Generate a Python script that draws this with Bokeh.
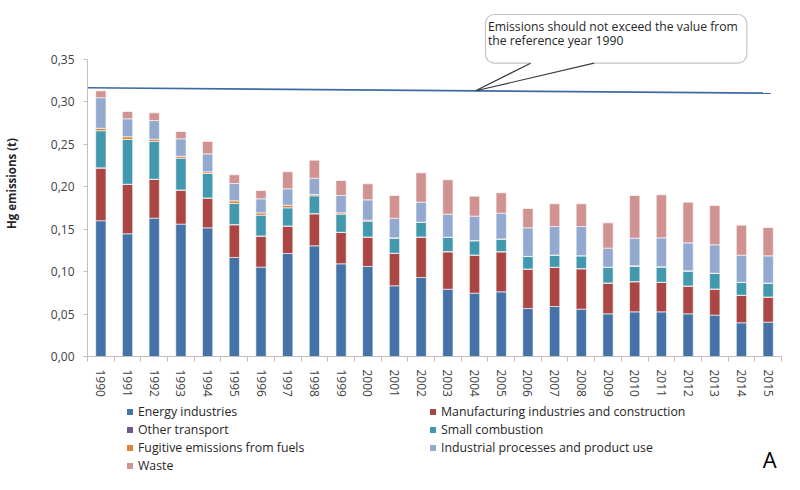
import numpy as np
from bokeh.plotting import figure
from bokeh.layouts import column
from bokeh.models import (FixedTicker, CustomJSTickFormatter, Legend, LegendItem,
                          BoxAnnotation, Label, ColumnDataSource)
from bokeh.embed import file_html
from bokeh.resources import INLINE

# ---------------- data ----------------
years = ["1990", "1991", "1992", "1993", "1994", "1995", "1996", "1997", "1998",
         "1999", "2000", "2001", "2002", "2003", "2004", "2005", "2006", "2007",
         "2008", "2009", "2010", "2011", "2012", "2013", "2014", "2015"]

series_names = ["Energy industries", "Manufacturing industries and construction",
                "Other transport", "Small combustion", "Fugitive emissions from fuels",
                "Industrial processes and product use", "Waste"]

energy = [0.1600, 0.1446, 0.1630, 0.1560, 0.1516, 0.1167, 0.1053, 0.1214, 0.1304,
          0.1092, 0.1061, 0.0833, 0.0931, 0.0793, 0.0746, 0.0762, 0.0566, 0.0589,
          0.0558, 0.0503, 0.0526, 0.0526, 0.0503, 0.0487, 0.0397, 0.0405]
manufacturing = [0.0620, 0.0581, 0.0456, 0.0400, 0.0350, 0.0385, 0.0365, 0.0322, 0.0377,
                 0.0369, 0.0345, 0.0381, 0.0475, 0.0440, 0.0448, 0.0471, 0.0463, 0.0460,
                 0.0475, 0.0361, 0.0354, 0.0346, 0.0326, 0.0306, 0.0322, 0.0294]
other_transport = [0.0003, 0.0003, 0.0003, 0.0003, 0.0003, 0.0003, 0.0003, 0.0003, 0.0003,
                   0.0003, 0.0003, 0.0003, 0.0003, 0.0003, 0.0003, 0.0003, 0.0003, 0.0003,
                   0.0003, 0.0003, 0.0003, 0.0003, 0.0003, 0.0003, 0.0003, 0.0003]
small_combustion = [0.0437, 0.0527, 0.0445, 0.0374, 0.0288, 0.0248, 0.0244, 0.0213, 0.0209,
                    0.0213, 0.0186, 0.0177, 0.0170, 0.0166, 0.0166, 0.0147, 0.0146, 0.0142,
                    0.0150, 0.0182, 0.0178, 0.0178, 0.0174, 0.0182, 0.0150, 0.0162]
fugitive = [0.0029, 0.0032, 0.0027, 0.0023, 0.0019, 0.0031, 0.0028, 0.0031, 0.0016,
            0.0016, 0.0012, 0.0004, 0.0004, 0.0003, 0.0003, 0.0003, 0.0002, 0.0002,
            0.0002, 0.0003, 0.0008, 0.0004, 0.0003, 0.0003, 0.0002, 0.0002]
industrial = [0.0361, 0.0212, 0.0219, 0.0205, 0.0212, 0.0205, 0.0165, 0.0193, 0.0192,
              0.0204, 0.0239, 0.0232, 0.0236, 0.0272, 0.0288, 0.0303, 0.0336, 0.0336,
              0.0344, 0.0225, 0.0325, 0.0341, 0.0330, 0.0335, 0.0320, 0.0320]
waste = [0.0080, 0.0086, 0.0091, 0.0086, 0.0146, 0.0102, 0.0098, 0.0200, 0.0212,
         0.0177, 0.0189, 0.0267, 0.0345, 0.0405, 0.0235, 0.0240, 0.0228, 0.0267,
         0.0267, 0.0298, 0.0503, 0.0507, 0.0480, 0.0463, 0.0354, 0.0334]

y_ticks = [0.0, 0.05, 0.10, 0.15, 0.20, 0.25, 0.30, 0.35]
reference_line = [0.3166, 0.3103]   # value of the 1990 reference line (start, end)
callout_lines = ["Emissions should not exceed the value from", "the reference year 1990"]

colors = ["#4572A7", "#AA4643", "#71588F", "#4198AF", "#DB843D", "#93A9CF", "#D19392"]
keys = ["energy", "manufacturing", "other_transport", "small_combustion",
        "fugitive", "industrial", "waste"]

FONT = "Open Sans"

x_pos = list(range(len(years)))
src = ColumnDataSource(dict(x=x_pos, energy=energy, manufacturing=manufacturing,
                            other_transport=other_transport,
                            small_combustion=small_combustion, fugitive=fugitive,
                            industrial=industrial, waste=waste))

# ---------------- main figure ----------------
p = figure(width=784, height=400, output_backend="svg", toolbar_location=None,
           x_range=(-0.5, len(years) - 0.5), y_range=(0, 0.4077),
           min_border_left=80, min_border_right=3, min_border_top=10,
           min_border_bottom=44)
p.outline_line_color = None
p.xgrid.visible = False
p.ygrid.visible = False

p.vbar_stack(keys, x="x", width=0.385, source=src, fill_color=colors,
             line_color="white", line_width=0.6)

# reference line
p.line(x=[-0.5, len(years) - 0.9], y=reference_line, line_color="#3E6BA6", line_width=1.6)

ya = p.yaxis[0]
ya.ticker = FixedTicker(ticks=y_ticks)
ya.formatter = CustomJSTickFormatter(code="return tick.toFixed(2).replace('.', ',');")
ya.bounds = (0, 0.35)
ya.axis_line_color = "#BFBFBF"
ya.major_tick_line_color = "#BFBFBF"
ya.major_tick_out = 4
ya.major_tick_in = 0
ya.minor_tick_line_color = None
ya.major_label_standoff = 9
ya.major_label_text_font = FONT
ya.major_label_text_font_size = "12px"
ya.major_label_text_color = "#404040"
ya.axis_label = "Hg emissions (t)"
ya.axis_label_text_font = FONT
ya.axis_label_text_font_style = "bold"
ya.axis_label_text_font_size = "11.5px"
ya.axis_label_text_color = "#262626"
ya.axis_label_standoff = 29

xa = p.xaxis[0]
xa.ticker = FixedTicker(ticks=x_pos, minor_ticks=[i - 0.5 for i in range(len(years) + 1)])
xa.major_label_overrides = {i: y for i, y in enumerate(years)}
xa.major_label_orientation = "vertical"
xa.major_tick_line_color = None
xa.minor_tick_line_color = "#BFBFBF"
xa.minor_tick_out = 5
xa.minor_tick_in = 0
xa.axis_line_color = "#BFBFBF"
xa.major_label_standoff = 7
xa.major_label_text_font = FONT
xa.major_label_text_font_size = "12px"
xa.major_label_text_color = "#404040"

# callout
box = BoxAnnotation(left=14.41, right=24.20, top=0.4030, bottom=0.3456,
                    fill_color="white", fill_alpha=1.0, line_color="#3A3A3A",
                    line_width=1.2, border_radius=9)
p.add_layout(box)
p.line(x=[16.10, 18.48], y=[0.3456, 0.3456], line_color="white", line_width=3, level="overlay")
p.line(x=[16.10, 14.04, 18.48], y=[0.3456, 0.3131, 0.3456], line_color="#3A3A3A",
       line_width=1.2, level="overlay")
for i, t in enumerate(callout_lines):
    p.add_layout(Label(x=14.50, y=0.3889 - i * 0.0170, text=t, text_font=FONT,
                       text_font_size="12.2px", text_color="#262626",
                       text_baseline="middle", level="overlay"))

# ---------------- legend figure ----------------
LH = 74
p2 = figure(width=784, height=LH, output_backend="svg", toolbar_location=None,
            x_range=(80, 781), y_range=(0, LH), x_axis_type=None, y_axis_type=None,
            min_border_left=80, min_border_right=3, min_border_top=0,
            min_border_bottom=0)
p2.outline_line_color = None

items = []
for name, c in zip(series_names, colors):
    r = p2.scatter(x=[-100], y=[-100], marker="square", size=7, fill_color=c,
                   line_color=None)
    items.append(LegendItem(label=name, renderers=[r]))

common = dict(glyph_width=15, glyph_height=15, label_height=15, label_standoff=1,
              spacing=1, padding=0, margin=0, border_line_color=None,
              background_fill_alpha=0, label_text_font=FONT,
              label_text_font_size="12.3px", label_text_color="#262626")
leg1 = Legend(items=items[0::2], location=(35, 0), **common)
leg2 = Legend(items=items[1::2], location=(338, 18), **common)
p2.add_layout(leg1)
p2.add_layout(leg2)

p2.add_layout(Label(x=762, y=16, text="A", text_font=FONT, text_font_size="22px",
                    text_color="#000000", text_baseline="middle", text_align="left"))

open("out.html", "w").write(file_html(column(p, p2, spacing=0), INLINE))
